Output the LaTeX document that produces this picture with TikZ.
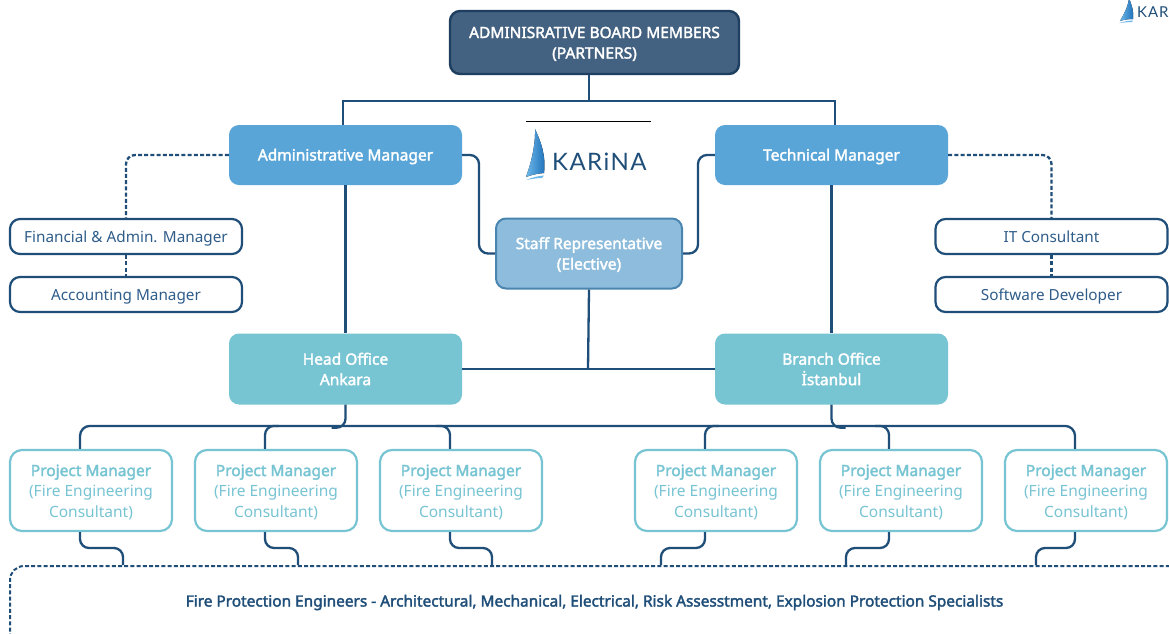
\documentclass[tikz,border=0pt]{standalone}
\usepackage{fontspec}
\setmainfont{Noto Sans}
\newfontfamily\semib[FakeBold=2.2]{Noto Sans}
\newfontfamily\logofont[LetterSpace=6]{Lato}
\usetikzlibrary{calc,shadings}
\definecolor{navy}{HTML}{1F4E79}
\definecolor{softnavy}{HTML}{2F5D8A}
\definecolor{boardfill}{HTML}{436180}
\definecolor{boardline}{HTML}{1F3F60}
\definecolor{mgr}{HTML}{5AA5D8}
\definecolor{stafffill}{HTML}{8DBCDC}
\definecolor{staffline}{HTML}{4A85B0}
\definecolor{office}{HTML}{77C4D3}
\definecolor{sailA}{HTML}{1C6FB8}
\definecolor{sailB}{HTML}{6DB8EA}
\tikzset{
  x=1pt,y=-1pt,
  base/.style={rectangle,align=center,inner sep=0pt,font=\fontsize{15.5}{20.5}\selectfont},
  single/.style={text height=11pt,text depth=0pt},
  headbox/.style={base,font=\semib\fontsize{15.5}{20.5}\selectfont,text=white},
  board/.style={headbox,draw=boardline,line width=2.4pt,fill=boardfill,rounded corners=10pt,minimum width=289pt,minimum height=63pt},
  manager/.style={headbox,fill=mgr,rounded corners=10pt,minimum width=233pt,minimum height=60pt},
  staff/.style={headbox,draw=staffline,line width=2pt,fill=stafffill,rounded corners=10pt,minimum width=186pt,minimum height=70pt},
  officebox/.style={headbox,fill=office,rounded corners=10pt,minimum width=233pt,minimum height=71pt},
  support/.style={base,font=\fontsize{15.3}{20.5}\selectfont,draw=navy,line width=2.2pt,fill=white,text=softnavy,rounded corners=10pt,minimum width=232pt,minimum height=35pt},
  pmbox/.style={base,draw=office,line width=2.2pt,fill=white,text=office,rounded corners=12pt,minimum width=162pt,minimum height=81pt},
  pool/.style={rectangle,draw=navy,line width=2pt,dash pattern=on 4pt off 2.2pt,rounded corners=14pt,minimum width=1180pt,minimum height=94pt},
  conn/.style={draw=navy,line width=2.3pt,rounded corners=9pt},
  dashconn/.style={conn,dash pattern=on 4pt off 2.2pt},
}
\begin{document}
\begin{tikzpicture}
\useasboundingbox (0,0) rectangle (1169,633);
\fill[white] (0,0) rectangle (1169,633);

% clipped items
\begin{scope}
\clip (0,0) rectangle (1169,633);
\node[pool] (poolbox) at (600,613) {};
\fill[left color=sailB,right color=sailA] (1129,-2) .. controls (1132,6) and (1134,12) .. (1133,19) .. controls (1127,19) and (1123,20) .. (1120,21) .. controls (1124,14) and (1128,7) .. (1129,-2);
\fill[sailB] (1119,23) .. controls (1124,21.5) and (1129,20.5) .. (1133,20.5) -- (1132,22) .. controls (1128,22) and (1124,22.5) .. (1119,23);
\node[anchor=base west,inner sep=0pt,text=navy] (smalllogo) at (1137,17.5) {\fontsize{15}{15}\logofont KAR};
\end{scope}

% nodes
\node[board] (boardn) at (594.5,42.5) {\rule{0pt}{14pt}ADMINISRATIVE BOARD MEMBERS\\(PARTNERS)};
\node[manager,single] (am) at (345.5,155) {Administrative Manager};
\node[manager,single] (tm) at (831.5,155) {Technical Manager};
\node[staff] (sr) at (589,253.5) {\rule{0pt}{14pt}Staff Representative\\(Elective)};
\node[officebox] (ho) at (345.5,369) {Head Office\\Ankara};
\node[officebox] (bo) at (831.5,369) {Branch Office\\İstanbul};
\node[support,single] (fa) at (126,236.5) {Financial \& Admin. Manager};
\node[support,single] (acc) at (126,294.5) {Accounting Manager};
\node[support,single] (it) at (1051.5,236.5) {IT Consultant};
\node[support,single] (sd) at (1051.5,294.5) {Software Developer};

\def\pmtext{\rule{0pt}{14.5pt}{\semib Project Manager}\\(Fire Engineering\\Consultant)}
\node[pmbox] (p1) at (91,490.5) {\pmtext};
\node[pmbox] (p2) at (276,490.5) {\pmtext};
\node[pmbox] (p3) at (461,490.5) {\pmtext};
\node[pmbox] (p4) at (716,490.5) {\pmtext};
\node[pmbox] (p5) at (901,490.5) {\pmtext};
\node[pmbox] (p6) at (1086,490.5) {\pmtext};

\node[inner sep=0pt,text=navy,font=\semib\fontsize{15.4}{18}\selectfont] (pooltext) at (594.5,602.5) {Fire Protection Engineers - Architectural, Mechanical, Electrical, Risk Assesstment, Explosion Protection Specialists};

% logo
\coordinate (rulel) at (526,121.5);
\coordinate (ruler) at (651,121.5);
\draw[black,line width=1pt] (rulel) -- (ruler);
\fill[left color=sailB,right color=sailA] (535,129) .. controls (541,142) and (546,155) .. (544,173) .. controls (537,173.5) and (531,175) .. (526,177) .. controls (531,163) and (535.5,146) .. (535,129);
\fill[sailB] (526,180) .. controls (532,177.5) and (538,176) .. (544,175.5) -- (542,178) .. controls (537,178) and (531,179) .. (526,180);
\node[anchor=base west,inner sep=0pt,text=navy] (logotext) at (552,170.5) {\fontsize{24}{24}\logofont KARiNA};

% connectors
\coordinate (busT) at (589,101);
\draw[conn] (boardn.south -| busT) -- (busT);
\draw[conn,rounded corners=0pt] (343,125 |- am.north) -- (343,101) -- (835,101) -- (835,125 |- tm.north);

\draw[dashconn] (am.west) -| (fa.north);
\draw[dashconn] (fa.south) -- (acc.north);
\draw[dashconn] (tm.east) -| (it.north);
\draw[dashconn] (it.south) -- (sd.north);

\draw[conn] (am.east) -- (479,155) -- (479,253.5) -- (sr.west);
\draw[conn] (tm.west) -- (698,155) -- (698,253.5) -- (sr.east);
\draw[conn] (am.south) -- (ho.north);
\draw[conn] (tm.south) -- (bo.north);
\draw[conn] (ho.east) -- (bo.west);
\draw[conn] (sr.south) -- (588,369);

% distribution bus
\draw[conn,rounded corners=10pt] ($(p1.north)+(-11,0)$) |- ($(p6.north)+(-11,-23)$) -- ($(p6.north)+(-11,0)$);
\draw[conn] (ho.south) |- ++(-14,23);
\draw[conn] (bo.south) |- ++(14,23);
\draw[conn] ($(p2.north)+(-11,0)$) |- ++(14,-23);
\draw[conn] ($(p3.north)+(-11,0)$) |- ++(-14,-23);
\draw[conn] ($(p4.north)+(-11,0)$) |- ++(14,-23);
\draw[conn] ($(p5.north)+(-12,0)$) |- ++(-14,-23);

% project manager to pool
\draw[conn] ($(p1.south)+(-11,0)$) |- (123,548) -- (123,0 |- poolbox.north);
\draw[conn] ($(p2.south)+(-11,0)$) |- (298,548) -- (298,0 |- poolbox.north);
\draw[conn] ($(p3.south)+(-11,0)$) |- (492,548) -- (492,0 |- poolbox.north);
\draw[conn] ($(p4.south)+(-11,0)$) |- (661,548) -- (661,0 |- poolbox.north);
\draw[conn] ($(p5.south)+(-12,0)$) |- (846,548) -- (846,0 |- poolbox.north);
\draw[conn] ($(p6.south)+(-11,0)$) |- (1036,548) -- (1036,0 |- poolbox.north);
\end{tikzpicture}
\end{document}
